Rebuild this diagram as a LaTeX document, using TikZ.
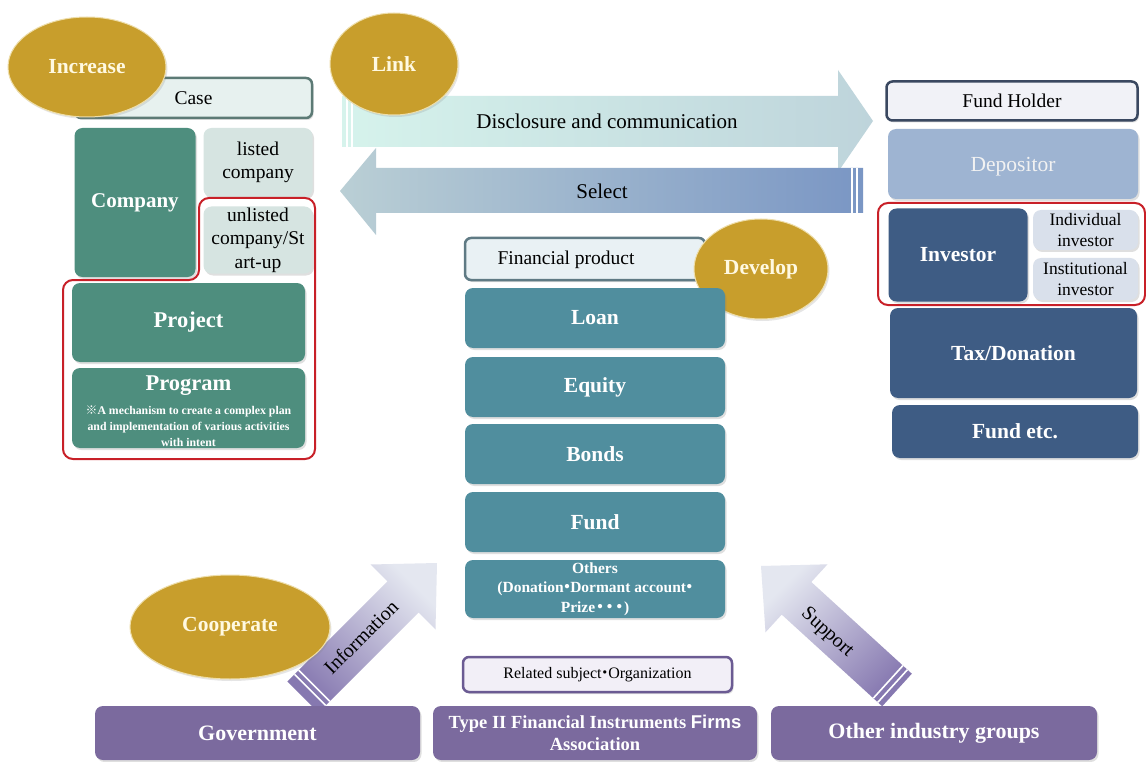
\documentclass[tikz,border=0pt]{standalone}
\usepackage{fontspec}
\setmainfont{Liberation Serif}
\newfontfamily\cjk{Noto Sans CJK JP}
\newfontfamily\gothic{Liberation Sans}
\newcommand\kdot{\makebox[0.42em][c]{\cjk ・}}
\newcommand\wdot{\makebox[0.62em][c]{\cjk ・}}
\usetikzlibrary{shapes.geometric,shadows}
\definecolor{gold}{RGB}{200,158,44}
\definecolor{goldedge}{RGB}{238,222,170}
\definecolor{cream}{RGB}{255,249,225}
\definecolor{tealG}{RGB}{78,142,126}
\definecolor{lightTeal}{RGB}{214,228,225}
\definecolor{caseFill}{RGB}{231,241,239}
\definecolor{caseEdge}{RGB}{92,122,117}
\definecolor{prodBlue}{RGB}{80,142,158}
\definecolor{prodFill}{RGB}{233,241,244}
\definecolor{prodEdge}{RGB}{95,122,132}
\definecolor{navy}{RGB}{62,92,132}
\definecolor{depBlue}{RGB}{158,180,210}
\definecolor{lightBlue}{RGB}{217,224,235}
\definecolor{fhFill}{RGB}{241,242,247}
\definecolor{fhEdge}{RGB}{58,72,96}
\definecolor{purp}{RGB}{123,106,158}
\definecolor{relFill}{RGB}{242,239,247}
\definecolor{relEdge}{RGB}{107,91,147}
\definecolor{redline}{RGB}{200,32,40}
\definecolor{arrA}{RGB}{214,243,236}
\definecolor{arrB}{RGB}{190,212,219}
\definecolor{arrC}{RGB}{186,207,213}
\definecolor{arrD}{RGB}{122,150,196}
\definecolor{parL}{RGB}{228,231,240}
\definecolor{parD}{RGB}{134,120,176}
\begin{document}
\begin{tikzpicture}[x=1pt,y=-1pt,
  base/.style={rounded corners=8pt, align=center, inner sep=1pt,
    drop shadow={opacity=0.25,shadow xshift=1.5pt,shadow yshift=-2pt}},
  tealbox/.style={base, fill=tealG, text=white, font=\bfseries\fontsize{21}{24}\selectfont},
  ltealbox/.style={base, fill=lightTeal, text=black, font=\fontsize{19.5}{23.5}\selectfont},
  prodbox/.style={base, fill=prodBlue, text=white, font=\bfseries\fontsize{21.5}{24}\selectfont},
  navybox/.style={base, fill=navy, text=white, font=\bfseries\fontsize{21.5}{24}\selectfont},
  lbluebox/.style={base, fill=lightBlue, text=black, font=\fontsize{17.5}{21}\selectfont},
  purpbox/.style={base, fill=purp, text=white, font=\bfseries\fontsize{22}{24}\selectfont},
  titlebox/.style={base, rounded corners=6pt, line width=2.5pt, text=black, font=\fontsize{19.5}{22}\selectfont},
  oval/.style={ellipse, fill=gold, draw=goldedge, line width=1pt, text=cream, inner sep=0pt,
    font=\bfseries\fontsize{21.5}{24}\selectfont,
    drop shadow={opacity=0.2,shadow xshift=1.5pt,shadow yshift=-2pt}},
  lab/.style={font=\fontsize{21}{24}\selectfont, text=black},
  redbox/.style={draw=redline, line width=2pt, rounded corners=10pt},
  stripe/.style={white, line width=1.6pt}
]
\useasboundingbox (0,0) rectangle (1146,762);
\fill[white] (0,0) rectangle (1146,762);

% ---- Link arrows
\shade[left color=arrA, right color=arrB] (342,96) -- (838,96) -- (838,70) -- (873,121) -- (838,172) -- (838,147) -- (342,147) -- cycle;
\draw[stripe] (347,96) -- (347,147);
\draw[stripe] (352,96) -- (352,147);
\shade[left color=arrC, right color=arrD] (863,168) -- (376,168) -- (376,148) -- (340,191) -- (376,235) -- (376,213) -- (863,213) -- cycle;
\draw[stripe] (852,168) -- (852,213);
\draw[stripe] (857,168) -- (857,213);
\node[lab] (disc) at (607,121) {Disclosure and communication};
\node[lab] (sel) at (602,191) {Select};
\node[oval, minimum width=128, minimum height=102] (link) at (394,64) {Link};

% ---- Left column
\node[titlebox, draw=caseEdge, fill=caseFill, minimum width=237, minimum height=40] (case) at (193.5,98) {Case};
\node[oval, minimum width=158, minimum height=100] (increase) at (87,67) {Increase};
\node[tealbox, minimum width=121, minimum height=149] (company) at (135,202.5) {Company};
\node[ltealbox, minimum width=109, minimum height=69] (listed) at (258,162.5) {listed\\company};
\node[ltealbox, minimum width=109, minimum height=67] (unlisted) at (258,240) {unlisted\\company/St\\art-up};
\node[tealbox, font=\bfseries\fontsize{22.5}{25}\selectfont, minimum width=233, minimum height=79] (project) at (188.5,322.5) {Project};
\node[tealbox, minimum width=233, minimum height=80] (program) at (188.5,408) {};
\node[text=white, font=\bfseries\fontsize{22.5}{25}\selectfont] (progtitle) at (188.5,386) {Program};
\node[text=white, align=center, font=\bfseries\fontsize{11.8}{16}\selectfont] (prognote) at (188.5,426) {{\cjk ※}A mechanism to create a complex plan\\and implementation of various activities\\with intent};
\draw[redbox] (199,198) -- (315,198) -- (315,459) -- (63,459) -- (63,280) -- (199,280) -- cycle;

% ---- Middle column
\node[titlebox, draw=prodEdge, fill=prodFill, minimum width=240, minimum height=42] (finprod) at (585,259) {};
\node[lab, font=\fontsize{19.5}{22}\selectfont] (finprodtext) at (566,260) {Financial product};
\node[oval, minimum width=134, minimum height=100] (develop) at (761,269) {Develop};
\node[prodbox, minimum width=260, minimum height=60] (loan) at (595,318) {Loan};
\node[prodbox, minimum width=260, minimum height=60] (equity) at (595,387) {Equity};
\node[prodbox, minimum width=260, minimum height=60] (bonds) at (595,454) {Bonds};
\node[prodbox, minimum width=260, minimum height=60] (fund) at (595,522) {Fund};
\node[prodbox, font=\bfseries\fontsize{15.5}{19.5}\selectfont, minimum width=260, minimum height=58] (others) at (595,589) {Others\\(Donation\kdot Dormant account\kdot\\Prize\wdot\wdot\wdot)};

% ---- Right column
\node[titlebox, draw=fhEdge, fill=fhFill, minimum width=251, minimum height=39] (fundholder) at (1012,101) {Fund Holder};
\node[base, fill=depBlue, minimum width=250, minimum height=70] (depositor) at (1013,164) {};
\node[text=white!95!black, font=\fontsize{21.5}{24}\selectfont] (deptext) at (1013,167) {Depositor};
\node[navybox, minimum width=139, minimum height=93] (investor) at (958,255) {Investor};
\node[lbluebox, minimum width=105, minimum height=40] (indiv) at (1085.5,230) {Individual\\investor};
\node[lbluebox, minimum width=105, minimum height=42] (inst) at (1085.5,279) {Institutional\\investor};
\draw[redbox] (878,203) rectangle (1145,305);
\node[navybox, minimum width=247, minimum height=90] (tax) at (1013.5,353) {Tax/Donation};
\node[navybox, minimum width=246, minimum height=53] (fundetc) at (1015,431.5) {Fund etc.};

% ---- Bottom arrows
\shade[top color=parL, bottom color=parD, shading angle=-45]
  (318.6,712.6) -- (418.6,612.6) -- (435.5,629.5) -- (437,563) -- (370.5,564.5) -- (387.4,581.4) -- (287.4,681.4) -- cycle;
\draw[stripe] (325.7,705.5) -- (294.5,674.3);
\draw[stripe] (329.9,701.3) -- (298.7,670.1);
\node[lab, font=\fontsize{20}{23}\selectfont, rotate=45] (info) at (361,637) {Information};
\shade[top color=parL, bottom color=parD, shading angle=45]
  (882.2,706.3) -- (781.7,614.6) -- (765.5,632.3) -- (761,566) -- (827.5,564.3) -- (811.3,582.0) -- (911.8,673.7) -- cycle;
\draw[stripe] (877.8,702.3) -- (907.4,669.7);
\draw[stripe] (873.3,698.2) -- (902.9,665.6);
\node[lab, font=\fontsize{20}{23}\selectfont, rotate=-42.4] (support) at (827,633) {Support};
\node[oval, minimum width=200, minimum height=104] (cooperate) at (230,627) {Cooperate};

% ---- Bottom boxes
\node[titlebox, draw=relEdge, fill=relFill, font=\fontsize{16}{19}\selectfont, minimum width=269, minimum height=35] (related) at (597.5,674.5) {Related subject\kdot Organization};
\node[purpbox, minimum width=325, minimum height=54] (gov) at (257.5,733) {Government};
\node[purpbox, font=\bfseries\fontsize{18.5}{22.5}\selectfont, minimum width=324, minimum height=54] (typeii) at (595,733) {Type II Financial Instruments {\gothic Firms}\\Association};
\node[purpbox, minimum width=326, minimum height=54] (otherind) at (934,733) {Other industry groups};
\end{tikzpicture}
\end{document}
